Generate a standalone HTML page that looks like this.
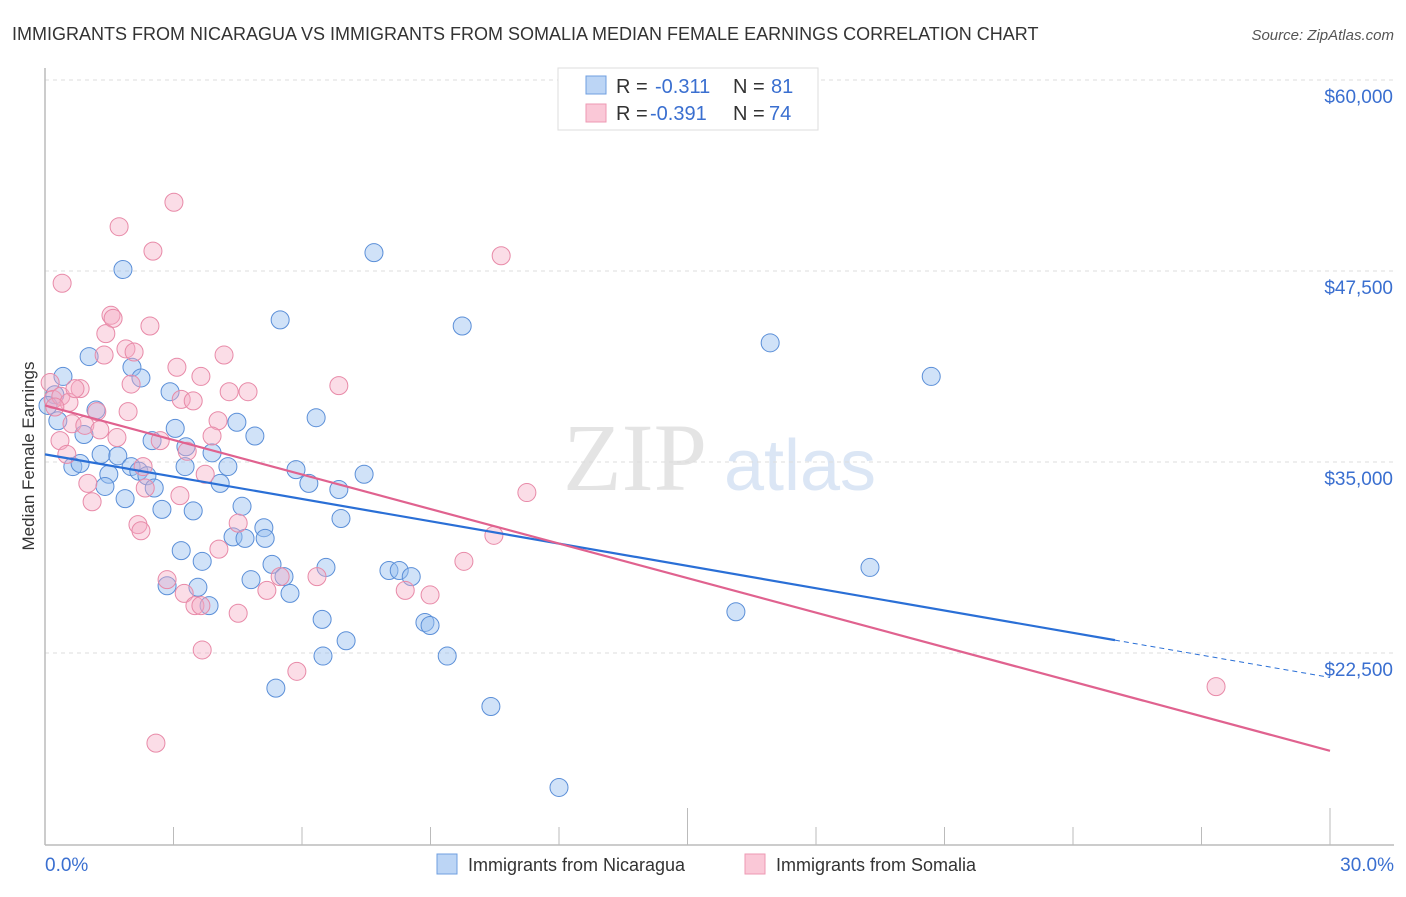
<!DOCTYPE html>
<html><head><meta charset="utf-8"><style>
body{margin:0;background:#fff;font-family:"Liberation Sans",sans-serif}
</style></head><body>
<svg id="chart" width="1406" height="892" xmlns="http://www.w3.org/2000/svg">
<text x="12" y="40" font-size="18" fill="#333">IMMIGRANTS FROM NICARAGUA VS IMMIGRANTS FROM SOMALIA MEDIAN FEMALE EARNINGS CORRELATION CHART</text>
<text x="1394" y="40" font-size="15" fill="#555" text-anchor="end" font-style="italic">Source: ZipAtlas.com</text>
<g>
<text x="635" y="490" font-size="96" fill="#e4e4e4" text-anchor="middle" font-family="Liberation Serif,serif">ZIP</text>
<text x="800" y="490" font-size="72" fill="#dbe6f5" text-anchor="middle">atlas</text>
</g>
<g id="grid"></g>
<g id="axes"></g>
<g id="marks"></g>
<g id="lines"></g>
<text transform="translate(34,456) rotate(-90)" font-size="17" fill="#333" text-anchor="middle">Median Female Earnings</text>
<g>
<rect x="558" y="68" width="260" height="62" fill="#fff" stroke="#ddd"/>
<rect x="586" y="76" width="20" height="18" fill="#bcd5f5" stroke="#6f9fe0"/>
<text x="616" y="93" font-size="20" fill="#333">R =</text>
<text x="655" y="93" font-size="20" fill="#3a6fd0">-0.311</text>
<text x="733" y="93" font-size="20" fill="#333">N =</text>
<text x="771" y="93" font-size="20" fill="#3a6fd0">81</text>
<rect x="586" y="104" width="20" height="18" fill="#fac8d7" stroke="#ee99b3"/>
<text x="616" y="120" font-size="20" fill="#333">R =</text>
<text x="650" y="120" font-size="20" fill="#3a6fd0">-0.391</text>
<text x="733" y="120" font-size="20" fill="#333">N =</text>
<text x="769" y="120" font-size="20" fill="#3a6fd0">74</text>
</g>
<g>
<rect x="437" y="854" width="20" height="20" fill="#bcd5f5" stroke="#6f9fe0"/>
<text x="468" y="871" font-size="18" fill="#333">Immigrants from Nicaragua</text>
<rect x="745" y="854" width="20" height="20" fill="#fac8d7" stroke="#ee99b3"/>
<text x="776" y="871" font-size="18" fill="#333">Immigrants from Somalia</text>
</g>
</svg>
<script>
const yTicks=[60000,47500,35000,22500];
const yTickLabels=["$60,000","$47,500","$35,000","$22,500"];
const xTickLabels=["0.0%","30.0%"];
const nicX=[1.82,5.49,7.68,9.74,16.93,20.69,1.03,0.42,2.03,2.24,2.92,1.19,0.23,0.07,0.30,0.91,3.04,4.48,4.90,6.33,2.50,3.29,1.31,1.70,3.90,0.65,0.82,2.01,2.19,3.27,4.27,5.86,7.45,1.49,2.38,2.55,4.09,6.16,6.86,1.40,1.87,2.73,3.46,4.60,6.91,5.11,4.39,4.67,5.14,3.18,5.30,6.56,3.67,5.58,4.81,8.03,8.27,8.55,19.26,2.85,3.57,5.72,3.83,6.47,8.87,8.99,16.13,7.03,6.49,9.39,5.39,10.41,12.00];
const nicY=[47600,44300,48700,43900,42800,40600,41900,40600,41200,40500,39600,38400,39400,38700,37700,36800,37200,37600,36700,37900,36400,36000,35500,35400,35600,34700,34900,34700,34400,34700,34700,34500,34200,34200,34100,33300,33600,33600,33200,33400,32600,31900,31800,32100,31300,30700,30100,30000,30000,29200,28300,28100,28500,27500,27300,27900,27900,27500,28100,26900,26800,26400,25600,24700,24500,24300,25200,23300,22300,22300,20200,19000,13700];
const somX=[3.01,1.73,2.52,10.65,0.40,1.54,1.59,2.45,1.42,1.38,1.89,2.08,4.18,3.08,3.64,2.01,0.82,0.12,0.19,0.37,0.56,1.21,1.94,3.18,3.46,4.30,4.74,6.86,4.04,3.90,0.63,0.93,1.28,1.68,2.69,3.32,3.74,0.35,0.51,2.29,2.34,3.15,1.00,1.10,2.17,2.24,4.51,11.25,4.06,10.48,2.85,3.25,3.50,3.64,5.18,5.49,6.35,8.41,8.99,4.51,3.67,5.88,9.78,2.59,27.34,0.70,0.23];
const somY=[52000,50400,48800,48500,46700,44600,44400,43900,43400,42000,42400,42200,42000,41200,40600,40100,39800,40200,39100,39300,38900,38300,38300,39100,39000,39600,39600,40000,37700,36700,37500,37400,37100,36600,36400,35700,34200,36400,35500,34700,33300,32800,33600,32400,30900,30500,31000,33000,29300,30200,27300,26400,25600,25600,26600,27500,27500,26600,26300,25100,22700,21300,28500,16600,20300,39800,38600];
const nicTrend=[35500,20900,24.98];
const somTrend=[38700,16100];
const NS="http://www.w3.org/2000/svg";
const X=p=>45+p/30*1285;
const Y=v=>80+(60000-v)*191/12500;
function mk(t,a,parent){const e=document.createElementNS(NS,t);for(const k in a)e.setAttribute(k,a[k]);parent.appendChild(e);return e;}
const grid=document.getElementById('grid'),axes=document.getElementById('axes'),marks=document.getElementById('marks'),lines=document.getElementById('lines');
yTicks.forEach((v,i)=>{
 const l=mk('line',{x1:45,x2:1394,y1:Y(v),y2:Y(v),stroke:'#ddd','stroke-dasharray':'4,4'},grid);
 
 
 const t=mk('text',{x:1393,y:Y(v)+23,'font-size':19,fill:'#3a6fd0','text-anchor':'end'},axes);
 t.textContent=yTickLabels[i];
 
 
});
const ax=mk('line',{x1:45,x2:1394,y1:845,y2:845,stroke:'#bbb','stroke-width':1.5},axes);


const ay=mk('line',{x1:45,x2:45,y1:68,y2:845,stroke:'#bbb','stroke-width':1.5},axes);


for(let i=1;i<=10;i++){
 const tk=mk('line',{x1:X(i*3),x2:X(i*3),y1:(i%5===0)?808:827,y2:845,stroke:'#bbb'},axes);
 
 
}
[[0,'start',45],[30,'end',1394]].forEach((d,i)=>{
 const t=mk('text',{x:d[2],y:871,'font-size':19,fill:'#3a6fd0','text-anchor':d[1]},axes);
 t.textContent=xTickLabels[i];
 
 
});
nicX.forEach((p,i)=>{
 const c=mk('circle',{cx:X(p),cy:Y(nicY[i]),r:9,fill:'rgba(150,190,240,0.45)',stroke:'#5b8fd8','stroke-width':1},marks);
 
 
});
somX.forEach((p,i)=>{
 const c=mk('circle',{cx:X(p),cy:Y(somY[i]),r:9,fill:'rgba(245,170,195,0.4)',stroke:'#e88aa8','stroke-width':1},marks);
 
 
});
const nAt=p=>nicTrend[0]+(nicTrend[1]-nicTrend[0])*p/30;
const l1=mk('line',{x1:X(0),y1:Y(nicTrend[0]),x2:X(nicTrend[2]),y2:Y(nAt(nicTrend[2])),stroke:'#2a6fd6','stroke-width':2.2},lines);


const l2=mk('line',{x1:X(nicTrend[2]),y1:Y(nAt(nicTrend[2])),x2:X(30),y2:Y(nicTrend[1]),stroke:'#2a6fd6','stroke-width':1,'stroke-dasharray':'5,4'},lines);


const l3=mk('line',{x1:X(0),y1:Y(somTrend[0]),x2:X(30),y2:Y(somTrend[1]),stroke:'#e0628f','stroke-width':2.2},lines);


</script>
</body></html>
